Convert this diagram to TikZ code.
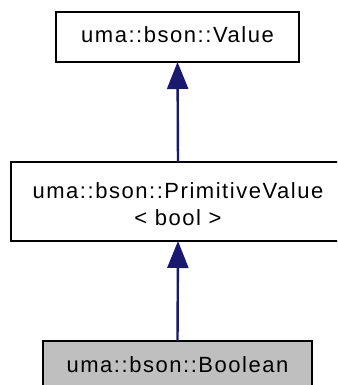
\documentclass[tikz,border=0pt]{standalone}
\usepackage{fontspec}
\setmainfont[LetterSpace=7]{Liberation Sans}
\usetikzlibrary{arrows.meta}
\definecolor{edgeblue}{HTML}{191970}
\definecolor{boxgray}{HTML}{BFBFBF}
\tikzset{
  classbox/.style={draw=black, line width=2pt, rectangle, inner sep=0pt, outer sep=0pt,
    font=\fontsize{22}{27}\selectfont, text height=16pt, text depth=4pt},
  inherit/.style={draw=edgeblue, line width=2.4pt,
    -{Triangle[length=27pt, width=21pt, fill=edgeblue]}}
}
\begin{document}
\begin{tikzpicture}[x=1pt,y=1pt]
\useasboundingbox (0,0) rectangle (337,-385);
\clip (0,0) rectangle (337,-385);
\fill[white] (0,0) rectangle (337,-385);
\node[classbox, minimum width=243pt, minimum height=50pt] (value) at (177.5,-37) {uma::bson::Value};
\node[classbox, minimum width=334pt, minimum height=79pt, text depth=23pt] (prim) at (178,-201.5)
  {\begin{tabular}[t]{@{}c@{}}uma::bson::PrimitiveValue\\< bool >\end{tabular}};
\node[classbox, fill=boxgray, minimum width=269pt, minimum height=50pt] (bool) at (177.5,-366) {uma::bson::Boolean};
\draw[inherit] (prim.north) -- (value.south);
\draw[inherit] (bool.north) -- (prim.south);
\end{tikzpicture}
\end{document}
